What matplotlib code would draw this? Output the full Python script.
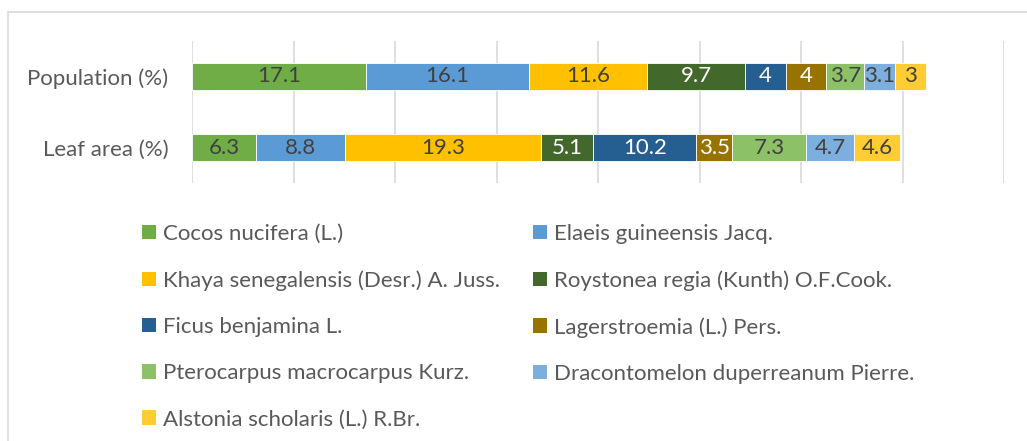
import matplotlib
matplotlib.use('Agg')
import matplotlib.pyplot as plt
from matplotlib.patches import Rectangle, Patch

plt.rcParams['font.family'] = ['Lato', 'DejaVu Sans']

categories = ['Population (%)', 'Leaf area (%)']
species = ['Cocos nucifera (L.)', 'Elaeis guineensis Jacq.',
           'Khaya senegalensis (Desr.) A. Juss.', 'Roystonea regia (Kunth) O.F.Cook.',
           'Ficus benjamina L.', 'Lagerstroemia (L.) Pers.',
           'Pterocarpus macrocarpus Kurz.', 'Dracontomelon duperreanum Pierre.',
           'Alstonia scholaris (L.) R.Br.']
population = [17.1, 16.1, 11.6, 9.7, 4, 4, 3.7, 3.1, 3]
leaf_area = [6.3, 8.8, 19.3, 5.1, 10.2, 3.5, 7.3, 4.7, 4.6]
colors = ['#70AD47', '#5B9BD5', '#FFC000', '#43682B', '#255E91',
          '#997300', '#8CC168', '#7CAFDD', '#FFCD33']
label_colors = ['#404040', '#404040', '#404040', 'white', 'white',
                'white', '#404040', '#404040', '#404040']

W, H = 1027, 441
fig = plt.figure(figsize=(W / 100, H / 100), dpi=100)

# outer chart frame (only left/top visible in the crop)
fig.patches.append(Rectangle((8 / W, -0.1), 1.2, 1.1 - 12 / H,
                             transform=fig.transFigure, fill=False,
                             edgecolor='#d9d9d9', linewidth=1.2))

ax = fig.add_axes([192 / W, (H - 183) / H, (1004 - 192) / W, 142 / H])

ypos = [0, 1]
left = [0.0, 0.0]
for i, name in enumerate(species):
    vals = [population[i], leaf_area[i]]
    bars = ax.barh(ypos, vals, left=left, height=0.37, color=colors[i],
                   edgecolor='white', linewidth=0.6, label=name, zorder=2)
    for b, v in zip(bars, vals):
        ax.text(b.get_x() + b.get_width() / 2, b.get_y() + b.get_height() / 2,
                f'{v:g}', ha='center', va='center', fontsize=16,
                color=label_colors[i], zorder=3)
    left = [l + v for l, v in zip(left, vals)]

ax.set_xlim(0, 80)
ax.set_ylim(1.5, -0.5)
ax.set_xticks(range(0, 81, 10))
ax.grid(axis='x', color='#d9d9d9', linewidth=1.2, zorder=0)
ax.tick_params(axis='x', length=0, labelbottom=False)
ax.tick_params(axis='y', length=0, labelsize=16, labelcolor='#595959', pad=17)
ax.set_yticks(ypos)
ax.set_yticklabels(categories)
for s in ax.spines.values():
    s.set_visible(False)

handles = [Patch(facecolor=c) for c in colors]
order = list(range(0, 9, 2)) + list(range(1, 9, 2))
leg = fig.legend([handles[k] for k in order], [species[k] for k in order],
                 ncol=2, loc='upper left', bbox_to_anchor=(133 / W, 1 - 215 / H),
                 frameon=False, fontsize=16, labelcolor='#595959',
                 handlelength=0.63, handleheight=0.63, handletextpad=0.3,
                 columnspacing=1.5, labelspacing=1.18, borderaxespad=0)

fig.savefig('out.png', dpi=100)
